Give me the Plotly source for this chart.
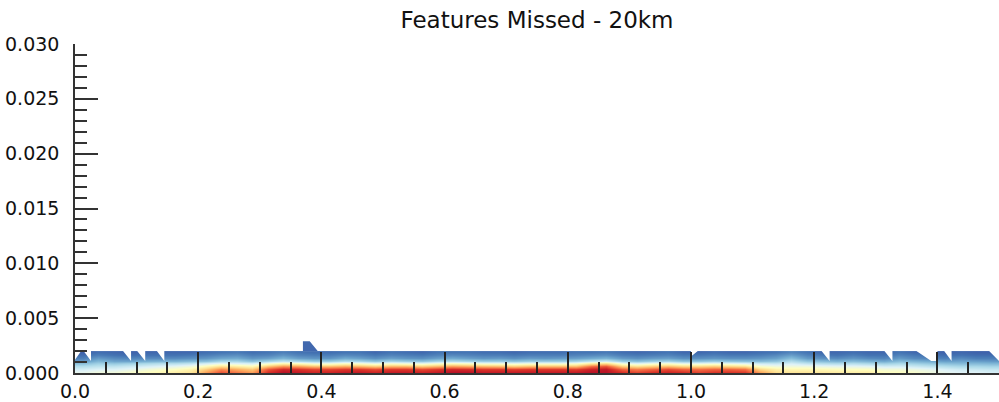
import plotly.graph_objects as go

# ---- data ----
x_centers = [0.0125 + 0.025 * i for i in range(60)]
y_centers = [0.000125, 0.000375, 0.000625, 0.000875, 0.001125, 0.001375, 0.001625, 0.001875]

row0 = [0.42,0.45,0.45,0.48,0.50,0.52,0.55,0.58,0.72,0.84,
        0.78,0.72,0.90,0.96,0.94,0.92,0.92,0.94,0.94,0.92,
        0.94,0.94,0.92,0.94,0.96,0.96,0.94,0.94,0.94,0.94,
        0.94,0.94,0.94,0.96,0.96,0.90,0.86,0.90,0.92,0.90,
        0.86,0.89,0.89,0.88,0.72,0.60,0.58,0.58,0.57,0.56,
        0.55,0.55,0.50,0.50,0.48,0.45,0.42,0.40,0.40,0.38]
row1 = [0.38,0.40,0.40,0.42,0.45,0.48,0.50,0.54,0.64,0.76,
        0.70,0.65,0.84,0.92,0.90,0.87,0.87,0.89,0.89,0.86,
        0.89,0.89,0.86,0.89,0.92,0.91,0.89,0.89,0.88,0.89,
        0.89,0.89,0.88,0.93,0.95,0.82,0.78,0.82,0.86,0.82,
        0.80,0.82,0.82,0.80,0.62,0.55,0.53,0.53,0.52,0.51,
        0.50,0.50,0.46,0.46,0.44,0.42,0.39,0.37,0.36,0.35]
row2 = [0.32,0.34,0.34,0.36,0.38,0.40,0.42,0.45,0.52,0.60,
        0.56,0.52,0.66,0.74,0.72,0.67,0.67,0.70,0.68,0.64,
        0.68,0.68,0.64,0.68,0.72,0.70,0.68,0.67,0.64,0.67,
        0.67,0.67,0.67,0.80,0.84,0.64,0.60,0.64,0.67,0.62,
        0.62,0.64,0.62,0.60,0.48,0.45,0.45,0.45,0.43,0.42,
        0.42,0.41,0.38,0.38,0.36,0.34,0.32,0.30,0.30,0.29]
row3 = [0.24,0.28,0.26,0.28,0.30,0.32,0.32,0.34,0.38,0.42,
        0.40,0.38,0.46,0.52,0.50,0.45,0.45,0.49,0.47,0.43,
        0.47,0.45,0.43,0.47,0.50,0.48,0.45,0.45,0.43,0.45,
        0.45,0.45,0.47,0.56,0.60,0.45,0.40,0.45,0.47,0.42,
        0.42,0.44,0.42,0.40,0.36,0.35,0.38,0.34,0.32,0.31,
        0.32,0.30,0.28,0.30,0.28,0.26,0.24,0.23,0.23,0.22]
row4 = [0.17,0.23,0.19,0.19,0.21,0.22,0.22,0.24,0.25,0.30,
        0.30,0.25,0.30,0.35,0.31,0.28,0.28,0.32,0.30,0.26,
        0.30,0.28,0.26,0.30,0.32,0.30,0.28,0.28,0.26,0.28,
        0.28,0.28,0.30,0.35,0.38,0.28,0.25,0.28,0.30,0.26,
        0.26,0.28,0.26,0.25,0.24,0.26,0.32,0.26,0.24,0.22,
        0.24,0.22,0.20,0.24,0.22,0.20,0.18,0.19,0.18,0.17]
row5 = [0.12,0.17,0.14,0.13,0.14,0.14,0.14,0.15,0.16,0.19,
        0.20,0.16,0.18,0.22,0.18,0.16,0.16,0.20,0.18,0.15,
        0.18,0.16,0.15,0.18,0.20,0.18,0.16,0.17,0.15,0.17,
        0.16,0.17,0.18,0.20,0.22,0.17,0.15,0.17,0.18,0.15,
        0.15,0.16,0.15,0.15,0.16,0.18,0.24,0.17,0.15,0.14,
        0.16,0.14,0.13,0.17,0.14,0.13,0.12,0.14,0.12,0.12]
row6 = [0.09,0.12,0.10,0.09,0.10,0.10,0.10,0.11,0.12,0.14,
        0.15,0.12,0.13,0.16,0.13,0.12,0.12,0.14,0.13,0.11,
        0.13,0.12,0.11,0.13,0.14,0.13,0.12,0.12,0.11,0.12,
        0.12,0.12,0.13,0.14,0.15,0.12,0.11,0.12,0.13,0.11,
        0.11,0.12,0.11,0.11,0.12,0.14,0.18,0.13,0.11,0.10,
        0.12,0.10,0.10,0.13,0.11,0.10,0.09,0.10,0.09,0.09]
row7 = [0.07,0.09,0.08,0.07,0.08,0.08,0.08,0.08,0.09,0.10,
        0.11,0.09,0.10,0.12,0.10,0.09,0.09,0.10,0.10,0.08,
        0.10,0.09,0.08,0.10,0.10,0.10,0.09,0.09,0.08,0.09,
        0.09,0.09,0.10,0.10,0.11,0.09,0.08,0.09,0.10,0.08,
        0.08,0.09,0.08,0.08,0.09,0.10,0.13,0.10,0.08,0.08,
        0.09,0.08,0.08,0.10,0.08,0.08,0.07,0.08,0.07,0.07]

# small raised patch near x ~ 0.37
peak_x = [0.3625, 0.3875]
peak_y = [0.00225, 0.00275]
peak_z = [[0.08, 0.08], [0.08, 0.08]]

# top boundary of the valid-data region (missing data above)
edge_x = [0.0, 0.010, 0.014, 0.026, 0.026,
          0.078, 0.091, 0.091,
          0.101, 0.114, 0.114,
          0.133, 0.145, 0.145,
          0.370, 0.370, 0.381, 0.394,
          1.000, 1.000, 1.011,
          1.212, 1.225, 1.225,
          1.314, 1.327, 1.327,
          1.366, 1.390, 1.400, 1.400,
          1.411, 1.423, 1.423,
          1.484, 1.500]
edge_y = [0.0012, 0.0020, 0.0020, 0.0011, 0.0020,
          0.0020, 0.0011, 0.0020,
          0.0020, 0.0011, 0.0020,
          0.0020, 0.0011, 0.0020,
          0.0020, 0.0029, 0.0029, 0.0020,
          0.0020, 0.0015, 0.0020,
          0.0020, 0.0011, 0.0020,
          0.0020, 0.0011, 0.0020,
          0.0020, 0.0011, 0.0011, 0.0020,
          0.0020, 0.0011, 0.0020,
          0.0020, 0.0011]

z = [row0, row1, row2, row3, row4, row5, row6, row7]

cscale = [[0.0, '#313695'], [0.1, '#4575b4'], [0.2, '#74add1'], [0.3, '#abd9e9'],
          [0.4, '#e0f3f8'], [0.5, '#ffffbf'], [0.6, '#fee090'], [0.7, '#fdae61'],
          [0.8, '#f46d43'], [0.9, '#d73027'], [1.0, '#a50026']]

fig = go.Figure()
fig.add_trace(go.Heatmap(x=x_centers, y=y_centers, z=z, colorscale=cscale,
                         zmin=0, zmax=1, zsmooth='best', showscale=False,
                         hoverinfo='skip'))
fig.add_trace(go.Heatmap(x=peak_x, y=peak_y, z=peak_z, colorscale=cscale,
                         zmin=0, zmax=1, zsmooth='best', showscale=False,
                         hoverinfo='skip'))
# white mask above the data boundary
fig.add_trace(go.Scatter(x=edge_x, y=edge_y, mode='lines', line=dict(width=0),
                         showlegend=False, hoverinfo='skip'))
fig.add_trace(go.Scatter(x=[0.0, 1.5], y=[0.0034, 0.0034], mode='lines',
                         line=dict(width=0), fill='tonexty', fillcolor='white',
                         showlegend=False, hoverinfo='skip'))

font = "DejaVu Sans"
fig.update_layout(
    width=999, height=402,
    margin=dict(l=75, r=0, t=44, b=29, autoexpand=False),
    paper_bgcolor='white', plot_bgcolor='white',
    showlegend=False,
    title=dict(text='Features Missed - 20km', x=0.5, xref='paper',
               y=1 - 20 / 402, yref='container', yanchor='middle',
               automargin=False,
               font=dict(family=font, size=23, color='#111')),
    font=dict(family=font, size=19, color='#111'),
)
fig.update_xaxes(range=[0, 1.5], dtick=0.2, tickformat='.1f', automargin=False,
                 showgrid=False, zeroline=False,
                 showline=True, linecolor='#333', linewidth=1.5,
                 ticks='inside', ticklen=21, tickwidth=1.5, tickcolor='#222',
                 minor=dict(ticks='inside', ticklen=11, tickwidth=1.5,
                            tickcolor='#222', dtick=0.05, showgrid=False),
                 tickfont=dict(family=font, size=19, color='#111'))
fig.update_yaxes(range=[0, 0.030], dtick=0.005, tickformat='.3f', automargin=False,
                 showgrid=False, zeroline=False,
                 showline=True, linecolor='#333', linewidth=1.5,
                 ticks='inside', ticklen=23, tickwidth=1.5, tickcolor='#333',
                 minor=dict(ticks='inside', ticklen=12, tickwidth=1.5,
                            tickcolor='#333', dtick=0.001, showgrid=False),
                 ticklabelstandoff=10,
                 tickfont=dict(family=font, size=19, color='#111'))

fig.write_html("out.html", config={'displayModeBar': False},
               post_script="document.body.style.margin='0';document.body.style.overflow='hidden';")
